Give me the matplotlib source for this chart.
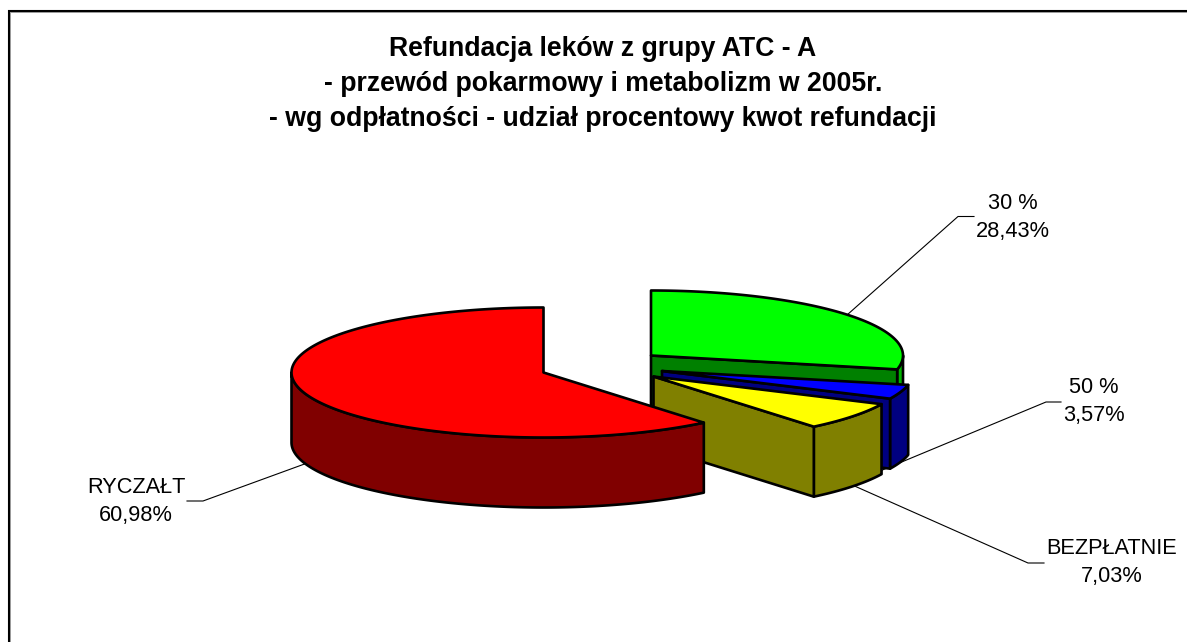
import numpy as np
import matplotlib
matplotlib.use("Agg")
import matplotlib.pyplot as plt
from matplotlib.patches import Polygon

# --- data ---
categories = ["30 %", "50 %", "BEZPŁATNIE", "RYCZAŁT"]
shares = [28.43, 3.57, 7.03, 60.98]
title_lines = ["Refundacja leków z grupy ATC - A",
               "- przewód pokarmowy i metabolizm w 2005r.",
               "- wg odpłatności - udział procentowy kwot refundacji"]

# --- style / layout (pixels) ---
top_colors = ["#00FF00", "#0000FF", "#FFFF00", "#FF0000"]
face_colors = ["#008000", "#000080", "#808000", "#800000"]
wall_colors = ["#00B400", "#000080", "#808000", "#800000"]
apexes = [(651, 355.5), (662, 371), (653.5, 376.5), (543.5, 372.5)]
RX, RY, DEPTH = 252, 65, 70
leaders = [[(847, 315), (958, 216.5), (974, 216.5)],
           [(880, 471), (1046, 402), (1061, 402)],
           [(850, 484), (1028, 563), (1044, 563)],
           [(310, 462), (203, 501), (187, 501)]]
label_xy = [(1013, 217.5), (1094, 401.5), (1112, 562.5), (136, 501.5)]

fig = plt.figure(figsize=(11.87, 6.42), dpi=100, facecolor="white")
ax = fig.add_axes([0, 0, 1, 1])
ax.set_xlim(0, 1187)
ax.set_ylim(642, 0)
ax.axis("off")
plt.rcParams["font.family"] = ["Liberation Sans", "DejaVu Sans"]

# frame: left and top only
ax.plot([8.5, 8.5, 1187], [642, 10.5, 10.5], color="black", lw=1.5, zorder=1,
        solid_joinstyle="miter")
ax.plot([10, 10], [12, 642], color="#999999", lw=0.7, zorder=1)
ax.plot([10, 1187], [12, 12], color="#999999", lw=0.7, zorder=1)

for i, line in enumerate(title_lines):
    ax.text(603, 56 + i * 35, line, ha="center", va="baseline", fontsize=19.2,
            fontweight="bold", color="black")

for pts, name, val, (lx, ly) in zip(leaders, categories, shares, label_xy):
    xs, ys = zip(*pts)
    ax.plot(xs, ys, color="black", lw=0.8, zorder=2)
    ax.text(lx, ly, f"{name}\n{val:.2f}%".replace(".", ","), ha="center", va="center",
            fontsize=15.7, color="black", linespacing=1.38, zorder=3)


def rim(cx, cy, a0, a1, dz=0):
    t = np.radians(np.linspace(a0, a1, max(int(abs(a1 - a0) * 2), 2)))
    return np.column_stack([cx + RX * np.sin(t), cy + dz - RY * np.cos(t)])


edges = np.concatenate([[0], np.cumsum(shares)]) / sum(shares) * 360
z = 10
LW = 1.9
for i in range(len(shares)):
    a0, a1 = edges[i], edges[i + 1]
    cx, cy = apexes[i]
    kw = dict(edgecolor="black", lw=LW, joinstyle="round")
    # outer wall: only the front half of the rim shows
    w0, w1 = max(a0, 90), min(a1, 270)
    if w1 > w0:
        poly = np.vstack([rim(cx, cy, w0, w1), rim(cx, cy, w0, w1, DEPTH)[::-1]])
        ax.add_patch(Polygon(poly, facecolor=wall_colors[i], zorder=z, **kw))
    # cut face of the slice
    if a1 < 180:
        p = rim(cx, cy, a1, a1)[0]
        poly = [(cx, cy), p, (p[0], p[1] + DEPTH), (cx, cy + DEPTH)]
        ax.add_patch(Polygon(poly, facecolor=face_colors[i], zorder=z + 1, **kw))
    # top face
    poly = np.vstack([[(cx, cy)], rim(cx, cy, a0, a1)])
    ax.add_patch(Polygon(poly, facecolor=top_colors[i], zorder=z + 2, **kw))
    z += 3

fig.savefig("out.png", dpi=100, facecolor="white")
